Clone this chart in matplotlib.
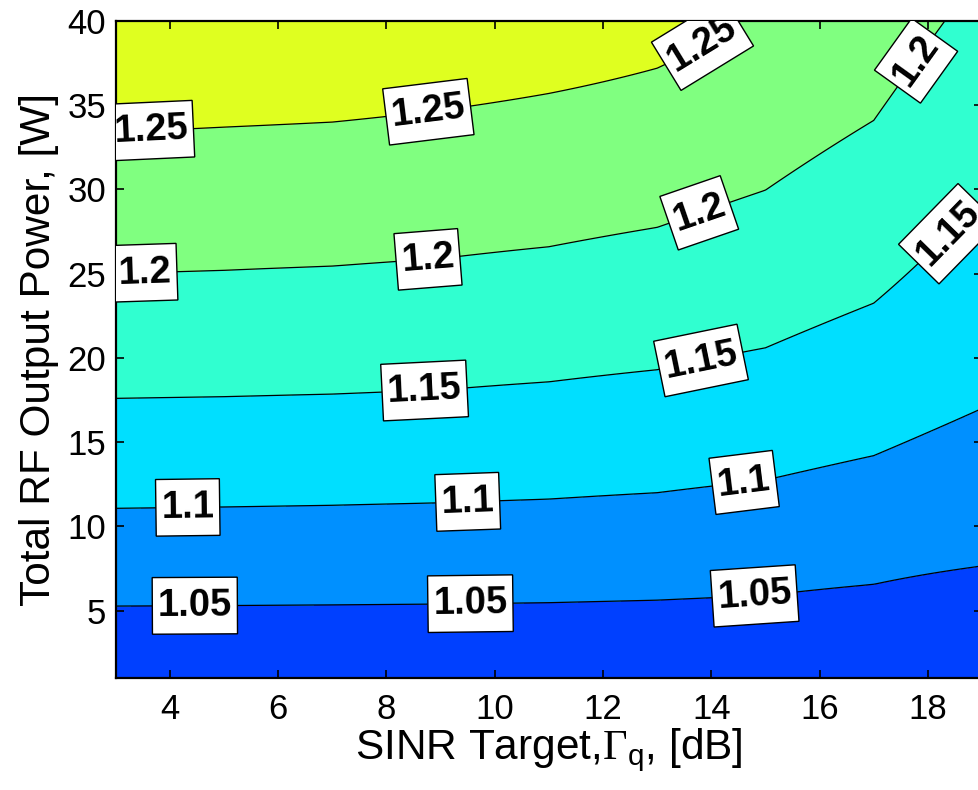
import numpy as np
import matplotlib
matplotlib.use("Agg")
import matplotlib.pyplot as plt
from matplotlib.path import Path

plt.rcParams["font.family"] = ["Liberation Sans", "DejaVu Sans"]
plt.rcParams["mathtext.fontset"] = "custom"
plt.rcParams["mathtext.rm"] = "Liberation Serif"
plt.rcParams["mathtext.sf"] = "Liberation Sans"

# SINR target grid, dB
sinr = [3, 5, 7, 9, 11, 13, 15, 17, 19]

# power (W) where each contour level crosses, read per SINR column
levels = [1.05, 1.10, 1.15, 1.20, 1.25]
p_105 = [5.27, 5.30, 5.34, 5.39, 5.47, 5.62, 5.90, 6.56, 7.65]
p_110 = [11.07, 11.15, 11.25, 11.40, 11.62, 12.00, 12.75, 14.20, 17.00]
p_115 = [17.60, 17.70, 17.85, 18.10, 18.58, 19.30, 20.60, 23.25, 29.50]
p_120 = [25.00, 25.20, 25.45, 25.90, 26.60, 27.75, 29.96, 34.10, 43.00]
p_125 = [33.40, 33.70, 34.00, 34.70, 35.70, 37.20, 41.50, 48.00, 56.00]

fill_colors = ["#0040FF", "#0090FF", "#00DFFF", "#30FFD0", "#80FF80", "#DFFF20"]

label_pos = [
    (3.65, 33.4), (8.77, 34.7), (13.9, 38.3),
    (3.54, 25.1), (8.77, 25.7), (13.8, 28.4), (17.8, 37.6),
    (8.7, 18.4), (13.8, 20.0), (18.5, 27.0),
    (4.33, 11.05), (9.5, 11.5), (14.6, 12.8),
    (4.46, 5.3), (9.55, 5.4), (14.8, 5.9),
]


def label_box(x0, y0, width, height, mutation_size):
    # taller than wide padding, like the matlab clabel boxes
    px = 0.14 * mutation_size
    py = 0.27 * mutation_size
    x0, y0 = x0 - px, y0 - py
    x1, y1 = x0 + width + 2 * px, y0 + height + 2 * py
    return Path([(x0, y0), (x1, y0), (x1, y1), (x0, y1), (x0, y0)], closed=True)


# build a surface from the contour crossings
power = np.linspace(1, 40, 391)
crossings = np.array([p_105, p_110, p_115, p_120, p_125])
Z = np.empty((len(power), len(sinr)))
for j in range(len(sinr)):
    yp = np.concatenate([[crossings[0, j] - 6.0], crossings[:, j], [crossings[-1, j] + 8.0]])
    zp = np.concatenate([[1.0], levels, [1.3]])
    Z[:, j] = np.interp(power, yp, zp)
X, Y = np.meshgrid(sinr, power)

fig = plt.figure(figsize=(9.79, 7.9), dpi=100)
ax = fig.add_axes([115.8 / 979, 1 - 678 / 790, (982 - 115.8) / 979, (678 - 21) / 790])

ax.contourf(X, Y, Z, levels=[0.99] + levels + [1.31], colors=fill_colors)
cs = ax.contour(X, Y, Z, levels=levels, colors="k", linewidths=0.9)
texts = ax.clabel(cs, manual=label_pos, inline=True, fmt="%g", fontsize=27.5)
for t in texts:
    t.set_fontweight("bold")
    t.set_bbox(dict(boxstyle=label_box, facecolor="white", edgecolor="black", linewidth=1.0))
    t.set_clip_on(True)

ax.set_xlim(3, 19)
ax.set_ylim(1, 40)
ax.set_xticks(range(4, 19, 2))
ax.set_yticks(range(5, 41, 5))
ax.tick_params(direction="in", length=6, width=1.2, top=True, right=True, labelsize=25)
ax.tick_params(axis="x", pad=11)
ax.tick_params(axis="y", pad=7)
for s in ax.spines.values():
    s.set_linewidth(1.6)

ax.set_xlabel(r"SINR Target,$\Gamma_{\mathsf{q}}$, [dB]", fontsize=30.5, labelpad=0)
ax.set_ylabel("Total RF Output Power, [W]", fontsize=30.5, labelpad=6)

fig.savefig("out.png", dpi=100)
